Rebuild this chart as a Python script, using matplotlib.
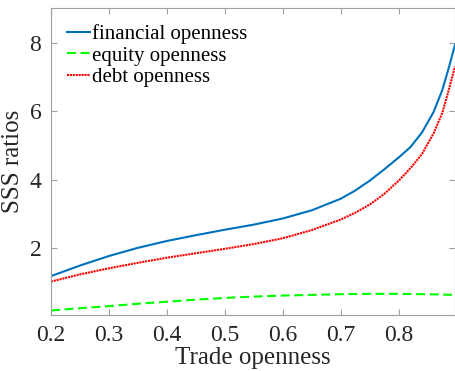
import numpy as np
import matplotlib
matplotlib.use("Agg")
import matplotlib.pyplot as plt

plt.rcParams["font.family"] = ["Liberation Serif", "DejaVu Serif"]

# trade openness grid and SSS ratios for each openness measure
trade = [0.2, 0.25, 0.3, 0.35, 0.4, 0.45, 0.5, 0.55, 0.6, 0.65, 0.7, 0.725,
         0.75, 0.775, 0.8, 0.82, 0.84, 0.86, 0.875, 0.885, 0.897]
financial = [1.17, 1.48, 1.76, 2.00, 2.20, 2.37, 2.53, 2.68, 2.86, 3.10, 3.44,
             3.68, 3.97, 4.30, 4.65, 4.95, 5.38, 5.98, 6.62, 7.20, 7.95]
equity = [0.16, 0.23, 0.29, 0.36, 0.42, 0.48, 0.53, 0.57, 0.60, 0.62, 0.64,
          0.645, 0.65, 0.65, 0.65, 0.645, 0.64, 0.635, 0.63, 0.625, 0.62]
debt = [1.01, 1.22, 1.40, 1.56, 1.71, 1.84, 1.97, 2.11, 2.28, 2.52, 2.83,
        3.03, 3.27, 3.58, 3.97, 4.33, 4.75, 5.35, 5.95, 6.55, 7.31]

xticks = [0.2, 0.3, 0.4, 0.5, 0.6, 0.7, 0.8]
yticks = [2, 4, 6, 8]

fig = plt.figure(figsize=(4.55, 3.71), dpi=100)
ax = fig.add_axes([51 / 455, 1 - 315 / 371, 404 / 455, 307 / 371])

ax.plot(trade, financial, color="#0072BD", lw=1.5, label="financial openness")
ax.plot(trade, equity, color="#00FF00", lw=1.5, ls=(0, (4.3, 2.2)), label="equity openness")
ax.plot(trade, debt, color="#FF0000", lw=1.5, ls=(0, (1, 0.4)), label="debt openness")

ax.set_xlim(0.2, 0.897)
ax.set_ylim(0.03, 9.03)
ax.set_xticks(xticks)
ax.set_yticks(yticks)
ax.set_xticklabels(["%.1f" % t for t in xticks])

for s in ax.spines.values():
    s.set_color("#a0a0a0")
    s.set_linewidth(0.8)
ax.tick_params(direction="in", top=True, right=True, length=4, width=0.8,
               color="#a0a0a0", labelcolor="#262626", labelsize=17, pad=7)

ax.set_xlabel("Trade openness", fontsize=18, color="#262626", labelpad=1)
ax.set_ylabel("SSS ratios", fontsize=18, color="#262626", labelpad=4)

ax.legend(loc="upper left", frameon=False, fontsize=15, handlelength=1.1,
          handletextpad=0.1, labelspacing=0.1, borderaxespad=0,
          bbox_to_anchor=(0.02, 0.975))

fig.savefig("out.png", dpi=100)
